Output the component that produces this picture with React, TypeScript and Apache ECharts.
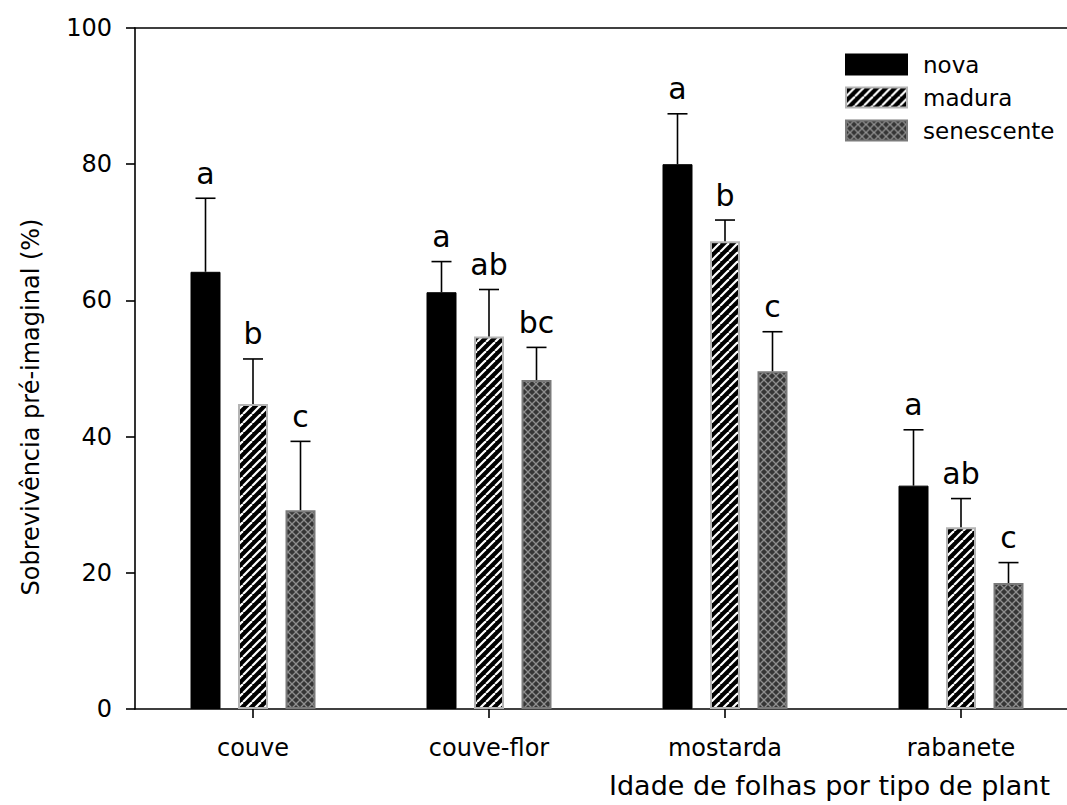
import React, { useEffect, useRef } from "react";
import * as echarts from "echarts";

const categories = ["couve", "couve-flor", "mostarda", "rabanete"];
const seriesNames = ["nova", "madura", "senescente"];
const novaMean = [64.2, 61.2, 80.0, 32.8];
const novaUpper = [75.0, 65.7, 87.4, 41.0];
const maduraMean = [44.8, 54.7, 68.7, 26.7];
const maduraUpper = [51.4, 61.6, 71.8, 30.9];
const senescenteMean = [29.2, 48.3, 49.6, 18.5];
const senescenteUpper = [39.3, 53.1, 55.4, 21.5];
const novaLetters = ["a", "a", "a", "a"];
const maduraLetters = ["b", "ab", "b", "ab"];
const senescenteLetters = ["c", "bc", "c", "c"];
const yMin = 0;
const yMax = 100;
const yStep = 20;

const FONT = "DejaVu Sans";
const BAR_W = 30;
const GAP = 17.5;
const CAP = 20;

function stripeTile(): HTMLCanvasElement {
  const s = 9;
  const c = document.createElement("canvas");
  c.width = s;
  c.height = s;
  const g = c.getContext("2d")!;
  g.fillStyle = "#000";
  g.fillRect(0, 0, s, s);
  g.strokeStyle = "#fff";
  g.lineWidth = 2.2;
  for (let k = -1; k <= 1; k++) {
    g.beginPath();
    g.moveTo(k * s, s);
    g.lineTo(k * s + s, 0);
    g.stroke();
  }
  return c;
}

function crossTile(): HTMLCanvasElement {
  const s = 8;
  const c = document.createElement("canvas");
  c.width = s;
  c.height = s;
  const g = c.getContext("2d")!;
  g.fillStyle = "#363636";
  g.fillRect(0, 0, s, s);
  g.strokeStyle = "#8e8e8e";
  g.lineWidth = 1.3;
  for (let k = -1; k <= 1; k++) {
    g.beginPath();
    g.moveTo(k * s, s);
    g.lineTo(k * s + s, 0);
    g.stroke();
    g.beginPath();
    g.moveTo(k * s, 0);
    g.lineTo(k * s + s, s);
    g.stroke();
  }
  return c;
}

function errSeries(i: number, means: number[], upper: number[], letters: string[]) {
  return {
    type: "custom",
    xAxisIndex: 0,
    yAxisIndex: 0,
    silent: true,
    z: 10,
    data: means.map((m, k) => [k, m, upper[k]]),
    encode: { x: 0, y: 2 },
    renderItem: (params: any, api: any) => {
      const idx = api.value(0);
      const base = api.coord([idx, api.value(1)]);
      const top = api.coord([idx, api.value(2)]);
      const x = base[0] + (i - 1) * (BAR_W + GAP);
      const ls = { stroke: "#000", lineWidth: 1.6 };
      return {
        type: "group",
        children: [
          { type: "line", shape: { x1: x, y1: base[1], x2: x, y2: top[1] }, style: ls },
          { type: "line", shape: { x1: x - CAP / 2, y1: top[1], x2: x + CAP / 2, y2: top[1] }, style: ls },
          {
            type: "text",
            x,
            y: top[1] - 10,
            style: {
              text: letters[params.dataIndex],
              align: "center",
              verticalAlign: "bottom",
              fontFamily: FONT,
              fontSize: 30,
              fill: "#000",
            },
          },
        ],
      };
    },
  };
}

export default function App() {
  const ref = useRef<HTMLDivElement>(null);
  useEffect(() => {
    if (!ref.current) return;
    const chart = echarts.init(ref.current, undefined, { renderer: "svg" });
    const stripes = stripeTile();
    const cross = crossTile();
    const axisLine = { show: true, lineStyle: { color: "#000", width: 1.6 } };
    chart.setOption({
      animation: false,
      backgroundColor: "#fff",
      grid: { left: 135, top: 28, width: 944, height: 681 },
      legend: {
        data: seriesNames,
        orient: "vertical",
        left: 840,
        top: 48,
        icon: "rect",
        itemWidth: 61,
        itemHeight: 20,
        itemGap: 10,
        textStyle: { fontFamily: FONT, fontSize: 23, color: "#000", padding: [0, 0, 0, 11] },
      },
      xAxis: [
        {
          type: "category",
          data: categories,
          position: "bottom",
          axisLine,
          axisTick: { show: true, alignWithLabel: true, length: 9, lineStyle: { color: "#000", width: 1.6 } },
          axisLabel: { fontFamily: FONT, fontSize: 24, color: "#000", margin: 27 },
          splitLine: { show: false },
        },
        {
          type: "category",
          data: categories,
          position: "top",
          axisLine,
          axisTick: { show: false },
          axisLabel: { show: false },
          splitLine: { show: false },
        },
      ],
      yAxis: {
        type: "value",
        min: yMin,
        max: yMax,
        interval: yStep,
        axisLine,
        axisTick: { show: true, length: 9, lineStyle: { color: "#000", width: 1.6 } },
        axisLabel: { fontFamily: FONT, fontSize: 24, color: "#000", margin: 23 },
        splitLine: { show: false },
      },
      graphic: [
        {
          type: "text",
          x: 31,
          y: 407,
          rotation: Math.PI / 2,
          style: {
            text: "Sobrevivência pré-imaginal (%)",
            align: "center",
            verticalAlign: "middle",
            fontFamily: FONT,
            fontSize: 24,
            fill: "#000",
          },
        },
        {
          type: "text",
          x: 609,
          y: 785,
          style: {
            text: "Idade de folhas por tipo de plant",
            align: "left",
            verticalAlign: "middle",
            fontFamily: FONT,
            fontSize: 27,
            fill: "#000",
          },
        },
      ],
      series: [
        {
          name: seriesNames[0],
          type: "bar",
          data: novaMean,
          barWidth: BAR_W,
          barGap: (GAP / BAR_W) * 100 + "%",
          itemStyle: { color: "#000", borderColor: "#000", borderWidth: 1 },
        },
        {
          name: seriesNames[1],
          type: "bar",
          data: maduraMean,
          barWidth: BAR_W,
          barGap: (GAP / BAR_W) * 100 + "%",
          itemStyle: { color: { image: stripes, repeat: "repeat" }, borderColor: "#b4b4b4", borderWidth: 2 },
        },
        {
          name: seriesNames[2],
          type: "bar",
          data: senescenteMean,
          barWidth: BAR_W,
          barGap: (GAP / BAR_W) * 100 + "%",
          itemStyle: { color: { image: cross, repeat: "repeat" }, borderColor: "#7a7a7a", borderWidth: 2 },
        },
        errSeries(0, novaMean, novaUpper, novaLetters),
        errSeries(1, maduraMean, maduraUpper, maduraLetters),
        errSeries(2, senescenteMean, senescenteUpper, senescenteLetters),
      ],
    });
    return () => chart.dispose();
  }, []);
  return (
    <div style={{ position: "fixed", left: 0, top: 0, width: 1067, height: 805, overflow: "hidden", background: "#fff" }}>
      <div ref={ref} style={{ width: 1100, height: 805 }} />
    </div>
  );
}
